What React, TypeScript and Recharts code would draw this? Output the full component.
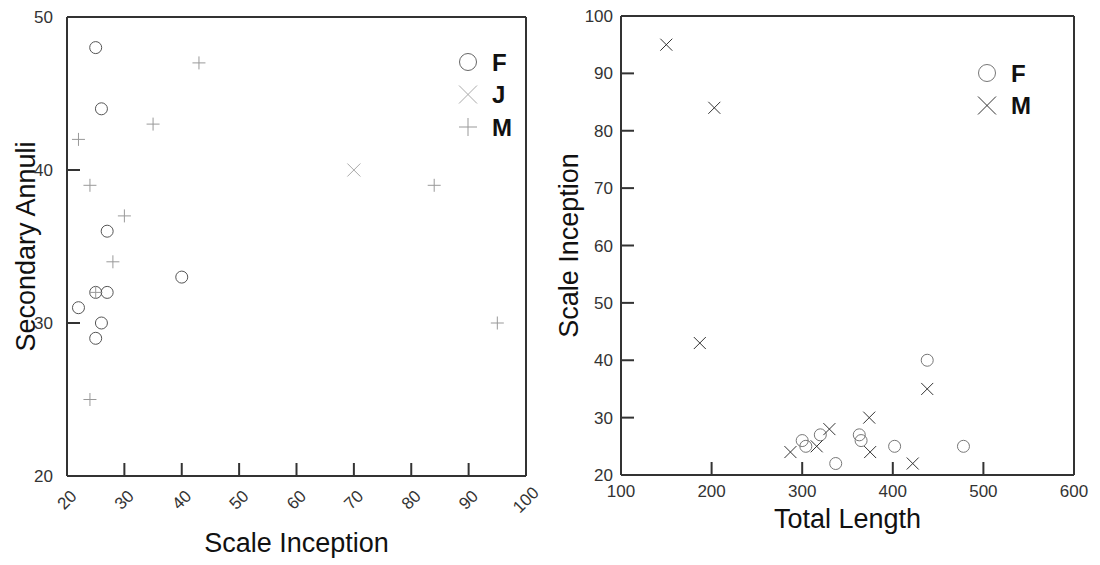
import React from 'react';
import { ScatterChart, Scatter, XAxis, YAxis, Legend } from 'recharts';

// left panel: Scale Inception vs Secondary Annuli
const leftFScale = [25, 26, 27, 40, 25, 27, 22, 26, 25];
const leftFAnnuli = [48, 44, 36, 33, 32, 32, 31, 30, 29];
const leftJScale = [70];
const leftJAnnuli = [40];
const leftMScale = [43, 35, 22, 24, 30, 28, 25, 24, 84, 95];
const leftMAnnuli = [47, 43, 42, 39, 37, 34, 32, 25, 39, 30];

// right panel: Total Length vs Scale Inception
const rightFLength = [438, 300, 304, 320, 337, 363, 365, 402, 478];
const rightFScale = [40, 26, 25, 27, 22, 27, 26, 25, 25];
const rightMLength = [150, 203, 187, 438, 374, 330, 316, 287, 375, 422];
const rightMScale = [95, 84, 43, 35, 30, 28, 25, 24, 24, 22];

const leftXTicks = [20, 30, 40, 50, 60, 70, 80, 90, 100];
const leftYTicks = [20, 30, 40, 50];
const rightXTicks = [100, 200, 300, 400, 500, 600];
const rightYTicks = [20, 30, 40, 50, 60, 70, 80, 90, 100];

const zip = (xs: number[], ys: number[]) => xs.map((x, i) => ({ x, y: ys[i] }));

const AXIS = '#333';
const FONT = '"Liberation Sans", Arial, sans-serif';

type Kind = 'circle' | 'cross' | 'plus';

const marker = (kind: Kind, cx: number, cy: number, h: number, color: string) => {
  if (kind === 'circle') return <circle cx={cx} cy={cy} r={h} fill="none" stroke={color} strokeWidth={1} />;
  if (kind === 'cross')
    return (
      <path
        d={`M${cx - h},${cy - h}L${cx + h},${cy + h}M${cx - h},${cy + h}L${cx + h},${cy - h}`}
        stroke={color}
        strokeWidth={1}
        fill="none"
      />
    );
  return (
    <path d={`M${cx - h},${cy}L${cx + h},${cy}M${cx},${cy - h}L${cx},${cy + h}`} stroke={color} strokeWidth={1} fill="none" />
  );
};

const shape = (kind: Kind, h: number, color: string) => (p: any) => marker(kind, p.cx, p.cy, h, color);

interface Item {
  name: string;
  kind: Kind;
  color: string;
}

const LegendBox = ({ items }: { items: Item[] }) => (
  <svg width={70} height={items.length * 33 + 6} style={{ display: 'block' }}>
    {items.map((it, i) => {
      const cy = 18 + i * 32.5;
      return (
        <g key={it.name}>
          {marker(it.kind, 13, cy, it.kind === 'circle' ? 8.5 : 9, it.color)}
          <text x={37} y={cy + 8.5} fontFamily={FONT} fontSize={24} fontWeight="bold" fill="#111">
            {it.name}
          </text>
        </g>
      );
    })}
  </svg>
);

const leftItems: Item[] = [
  { name: 'F', kind: 'circle', color: '#666' },
  { name: 'J', kind: 'cross', color: '#aaa' },
  { name: 'M', kind: 'plus', color: '#999' },
];
const rightItems: Item[] = [
  { name: 'F', kind: 'circle', color: '#777' },
  { name: 'M', kind: 'cross', color: '#333' },
];

const RotatedTick = (p: any) => (
  <text
    x={p.x}
    y={p.y + 24}
    transform={`rotate(-45, ${p.x}, ${p.y + 24})`}
    textAnchor="middle"
    dominantBaseline="central"
    fontFamily={FONT}
    fontSize={17}
    fill="#333"
  >
    {p.payload.value}
  </text>
);

const xTitle = (text: string, dy: number) => (p: any) => {
  const vb = p.viewBox || {};
  return (
    <text x={vb.x + vb.width / 2} y={vb.y + dy} textAnchor="middle" fontFamily={FONT} fontSize={27} fill="#111">
      {text}
    </text>
  );
};

const yTitle = (text: string, bx: number) => (p: any) => {
  const vb = p.viewBox || {};
  const cy = vb.y + vb.height / 2;
  return (
    <text
      x={bx}
      y={cy}
      transform={`rotate(-90, ${bx}, ${cy})`}
      textAnchor="middle"
      fontFamily={FONT}
      fontSize={27}
      fill="#111"
    >
      {text}
    </text>
  );
};

const line = { stroke: AXIS, strokeWidth: 2 };
const blank = () => '';

const LeftChart = () => (
  <ScatterChart width={550} height={565} margin={{ top: 16, right: 23, bottom: 0, left: 0 }}>
    <XAxis
      xAxisId="b"
      type="number"
      dataKey="x"
      domain={[20, 100]}
      ticks={leftXTicks}
      interval={0}
      height={89}
      tickSize={-13}
      tickMargin={13}
      axisLine={line}
      tickLine={line}
      tick={<RotatedTick />}
      label={xTitle('Scale Inception', 76)}
    />
    <XAxis
      xAxisId="t"
      orientation="top"
      type="number"
      domain={[20, 100]}
      ticks={leftXTicks}
      interval={0}
      height={1}
      tickSize={-13}
      axisLine={line}
      tickLine={line}
      tickFormatter={blank}
    />
    <YAxis
      yAxisId="l"
      type="number"
      dataKey="y"
      domain={[20, 50]}
      ticks={leftYTicks}
      interval={0}
      width={67}
      tickSize={-13}
      tickMargin={27}
      axisLine={line}
      tickLine={line}
      tick={{ fontFamily: FONT, fontSize: 17, fill: '#333' }}
      label={yTitle('Secondary Annuli', 35)}
    />
    <YAxis
      yAxisId="r"
      orientation="right"
      type="number"
      domain={[20, 50]}
      ticks={leftYTicks}
      interval={0}
      width={1}
      tickSize={-13}
      axisLine={line}
      tickLine={line}
      tickFormatter={blank}
    />
    <Legend
      layout="vertical"
      align="center"
      verticalAlign="middle"
      wrapperStyle={{ left: 455, top: 44, width: 70 }}
      content={() => <LegendBox items={leftItems} />}
    />
    <Scatter name="F" data={zip(leftFScale, leftFAnnuli)} xAxisId="b" yAxisId="l" shape={shape('circle', 6, '#555')} isAnimationActive={false} />
    <Scatter name="J" data={zip(leftJScale, leftJAnnuli)} xAxisId="b" yAxisId="l" shape={shape('cross', 6.5, '#aaa')} isAnimationActive={false} />
    <Scatter name="M" data={zip(leftMScale, leftMAnnuli)} xAxisId="b" yAxisId="l" shape={shape('plus', 6.5, '#999')} isAnimationActive={false} />
  </ScatterChart>
);

const RightChart = () => (
  <ScatterChart width={550} height={565} margin={{ top: 15, right: 25, bottom: 0, left: 0 }}>
    <XAxis
      xAxisId="b"
      type="number"
      dataKey="x"
      domain={[100, 600]}
      ticks={rightXTicks}
      interval={0}
      height={90}
      tickSize={-13}
      tickMargin={23}
      axisLine={line}
      tickLine={line}
      tick={{ fontFamily: FONT, fontSize: 17, fill: '#333' }}
      label={xTitle('Total Length', 53)}
    />
    <XAxis
      xAxisId="t"
      orientation="top"
      type="number"
      domain={[100, 600]}
      ticks={rightXTicks}
      interval={0}
      height={1}
      tickSize={-13}
      axisLine={line}
      tickLine={line}
      tickFormatter={blank}
    />
    <YAxis
      yAxisId="l"
      type="number"
      dataKey="y"
      domain={[20, 100]}
      ticks={rightYTicks}
      interval={0}
      width={71}
      tickSize={-13}
      tickMargin={21}
      axisLine={line}
      tickLine={line}
      tick={{ fontFamily: FONT, fontSize: 17, fill: '#333' }}
      label={yTitle('Scale Inception', 28)}
    />
    <YAxis
      yAxisId="r"
      orientation="right"
      type="number"
      domain={[20, 100]}
      ticks={rightYTicks}
      interval={0}
      width={1}
      tickSize={-13}
      axisLine={line}
      tickLine={line}
      tickFormatter={blank}
    />
    <Legend
      layout="vertical"
      align="center"
      verticalAlign="middle"
      wrapperStyle={{ left: 424, top: 55, width: 70 }}
      content={() => <LegendBox items={rightItems} />}
    />
    <Scatter name="F" data={zip(rightFLength, rightFScale)} xAxisId="b" yAxisId="l" shape={shape('circle', 6, '#777')} isAnimationActive={false} />
    <Scatter name="M" data={zip(rightMLength, rightMScale)} xAxisId="b" yAxisId="l" shape={shape('cross', 6, '#333')} isAnimationActive={false} />
  </ScatterChart>
);

export default function App() {
  return (
    <div style={{ position: 'absolute', left: 0, top: 0, width: 1100, height: 565, background: '#fff' }}>
      <div style={{ position: 'absolute', left: 0, top: 0 }}>
        <LeftChart />
      </div>
      <div style={{ position: 'absolute', left: 550, top: 0 }}>
        <RightChart />
      </div>
    </div>
  );
}
